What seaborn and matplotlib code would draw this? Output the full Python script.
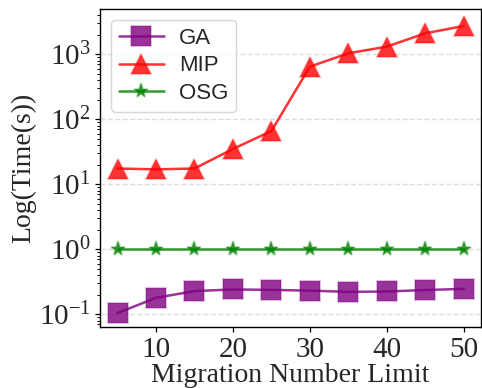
import matplotlib
matplotlib.use("Agg")
import matplotlib.pyplot as plt
import seaborn as sns
import pandas as pd
from matplotlib.colors import to_rgba

migration_limit = [5, 10, 15, 20, 25, 30, 35, 40, 45, 50]
ga_time = [0.105, 0.18, 0.228, 0.242, 0.238, 0.232, 0.222, 0.225, 0.237, 0.247]
mip_time = [17.5, 17.0, 17.5, 35, 66, 645, 1035, 1310, 2100, 2720]
osg_time = [1.0, 1.0, 1.0, 1.0, 1.0, 1.0, 1.0, 1.0, 1.0, 1.0]

methods = ["GA", "MIP", "OSG"]
colors = {"GA": "purple", "MIP": "red", "OSG": "green"}
markers = {"GA": "s", "MIP": "^", "OSG": "*"}
msizes = {"GA": 14, "MIP": 15, "OSG": 11}

df = pd.DataFrame({
    "limit": migration_limit * 3,
    "time": ga_time + mip_time + osg_time,
    "method": ["GA"] * 10 + ["MIP"] * 10 + ["OSG"] * 10,
})

sns.set_style("ticks")
plt.rcParams["font.family"] = ["Liberation Serif", "DejaVu Serif"]
plt.rcParams["mathtext.fontset"] = "stix"

fig = plt.figure(figsize=(4.82, 3.88), dpi=100)
ax = fig.add_axes([0.208, 0.157, 0.79, 0.82])

for m in methods:
    sub = df[df["method"] == m]
    c = colors[m]
    sns.lineplot(data=sub, x="limit", y="time", ax=ax, color=to_rgba(c, 0.8),
                 marker=markers[m], markersize=msizes[m], linewidth=1.8,
                 markerfacecolor=to_rgba(c, 0.8),
                 markeredgecolor=to_rgba(c, 0.25), markeredgewidth=1.5,
                 label=m)

ax.set_yscale("log")
ax.set_ylim(10 ** -1.195, 10 ** 3.697)
ax.set_xticks([10, 20, 30, 40, 50])
ax.yaxis.grid(True, which="major", linestyle="--", color="#dddddd", linewidth=1)
ax.set_axisbelow(True)
ax.tick_params(axis="both", which="major", labelsize=21, length=3.5, width=0.9,
               color="black")
ax.tick_params(axis="both", which="minor", length=2, width=0.7, color="black")
ax.set_xlabel("Migration Number Limit", fontsize=20, labelpad=0)
ax.set_ylabel("Log(Time(s))", fontsize=20, labelpad=2)
for s in ax.spines.values():
    s.set_color("black")
    s.set_linewidth(1.0)

leg = ax.legend(loc="upper left", prop={"family": "Liberation Sans", "size": 16},
                frameon=True, borderpad=0.35, labelspacing=0.3, handlelength=2.0,
                handletextpad=0.7, borderaxespad=0.5)
leg.get_frame().set_edgecolor("#cccccc")

fig.savefig("out.png", dpi=100)
